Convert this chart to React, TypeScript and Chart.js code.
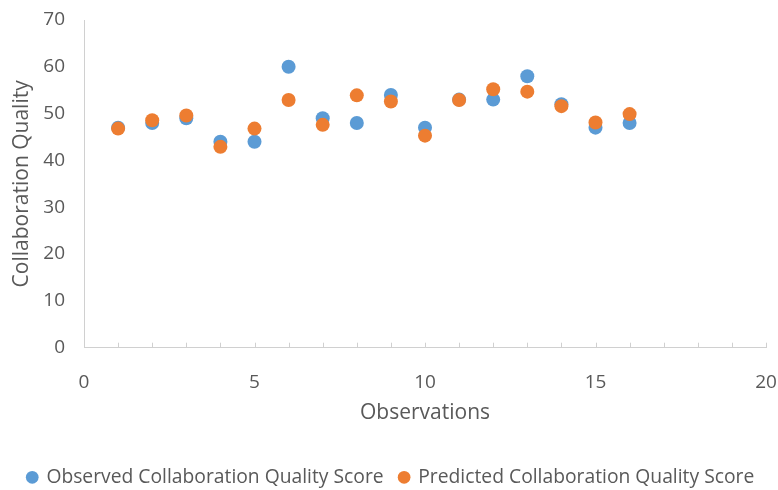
import React, { useEffect, useRef } from 'react';
import { Chart, registerables } from 'chart.js';

Chart.register(...registerables);

const observations = [1, 2, 3, 4, 5, 6, 7, 8, 9, 10, 11, 12, 13, 14, 15, 16];
const observedScores = [47, 48, 49, 44, 44, 60, 49, 48, 54, 47, 53, 53, 58, 52, 47, 48];
const predictedScores = [46.8, 48.6, 49.6, 42.9, 46.8, 52.9, 47.6, 53.9, 52.6, 45.3, 52.9, 55.2, 54.7, 51.6, 48.1, 49.9];
const xMin = 0;
const xMax = 20;
const xStep = 5;
const yMin = 0;
const yMax = 70;
const yStep = 10;
const minorTickValues = [0, 1, 2, 3, 4, 5, 6, 7, 8, 9, 10, 11, 12, 13, 14, 15, 16, 17, 18, 19, 20];

const FONT = '"Open Sans", "Liberation Sans", sans-serif';
const TEXT = '#595959';
const AXIS = '#d0d0d0';

const minorTicksPlugin = {
  id: 'minorTicks',
  afterDraw(chart: any) {
    const x = chart.scales.x;
    const { ctx, chartArea } = chart;
    ctx.save();
    ctx.strokeStyle = AXIS;
    ctx.lineWidth = 1;
    for (const v of minorTickValues) {
      const px = Math.round(x.getPixelForValue(v)) + 0.5;
      ctx.beginPath();
      ctx.moveTo(px, chartArea.bottom);
      ctx.lineTo(px, chartArea.bottom - 5);
      ctx.stroke();
    }
    ctx.restore();
  },
};

export default function App() {
  const ref = useRef<HTMLCanvasElement | null>(null);
  useEffect(() => {
    document.body.style.margin = '0';
    const canvas = ref.current;
    if (!canvas) return;
    const chart = new Chart(canvas, {
      type: 'scatter',
      data: {
        datasets: [
          {
            label: 'Observed Collaboration Quality Score',
            data: observations.map((o, i) => ({ x: o, y: observedScores[i] })),
            backgroundColor: '#5B9BD5',
            borderColor: '#5B9BD5',
            borderWidth: 0,
            pointRadius: 7,
            pointHoverRadius: 7,
            order: 1,
          },
          {
            label: 'Predicted Collaboration Quality Score',
            data: observations.map((o, i) => ({ x: o, y: predictedScores[i] })),
            backgroundColor: '#ED7D31',
            borderColor: '#ED7D31',
            borderWidth: 0,
            pointRadius: 7,
            pointHoverRadius: 7,
            order: 0,
          },
        ],
      },
      options: {
        responsive: false,
        animation: false,
        events: [],
        layout: { padding: { left: 4, right: 0, top: 20, bottom: -7 } },
        plugins: {
          tooltip: { enabled: false },
          legend: {
            position: 'bottom',
            labels: {
              usePointStyle: true,
              pointStyle: 'circle',
              boxWidth: 9,
              boxHeight: 9,
              color: TEXT,
              padding: 16,
              font: { family: FONT, size: 19.3 },
              sort: (a: any, b: any) => a.datasetIndex - b.datasetIndex,
            },
          },
        },
        scales: {
          x: {
            type: 'linear',
            min: xMin,
            max: xMax,
            grid: { display: false, drawTicks: false },
            border: { display: true, color: AXIS, width: 1 },
            ticks: {
              stepSize: xStep,
              color: TEXT,
              padding: 23,
              font: { family: FONT, size: 19 },
            },
            title: {
              display: true,
              text: 'Observations',
              color: TEXT,
              font: { family: FONT, size: 21 },
              padding: { top: 0, bottom: 26 },
            },
            afterFit: (scale: any) => {
              scale.height = 104;
              scale.paddingLeft = 0;
              scale.paddingRight = 12;
            },
          },
          y: {
            type: 'linear',
            min: yMin,
            max: yMax,
            grid: { display: false, drawTicks: false },
            border: { display: true, color: AXIS, width: 1 },
            ticks: {
              stepSize: yStep,
              color: TEXT,
              padding: 19,
              font: { family: FONT, size: 19 },
            },
            title: {
              display: true,
              text: 'Collaboration Quality',
              color: TEXT,
              font: { family: FONT, size: 21 },
              padding: { top: 5, bottom: 0 },
            },
            afterFit: (scale: any) => {
              scale.width = 80;
              scale.paddingTop = 0;
              scale.paddingBottom = 0;
            },
          },
        },
      },
      plugins: [minorTicksPlugin],
    });
    return () => chart.destroy();
  }, []);
  return (
    <div style={{ width: 778, height: 490 }}>
      <canvas ref={ref} width={778} height={490} style={{ display: 'block', width: 778, height: 490 }} />
    </div>
  );
}
